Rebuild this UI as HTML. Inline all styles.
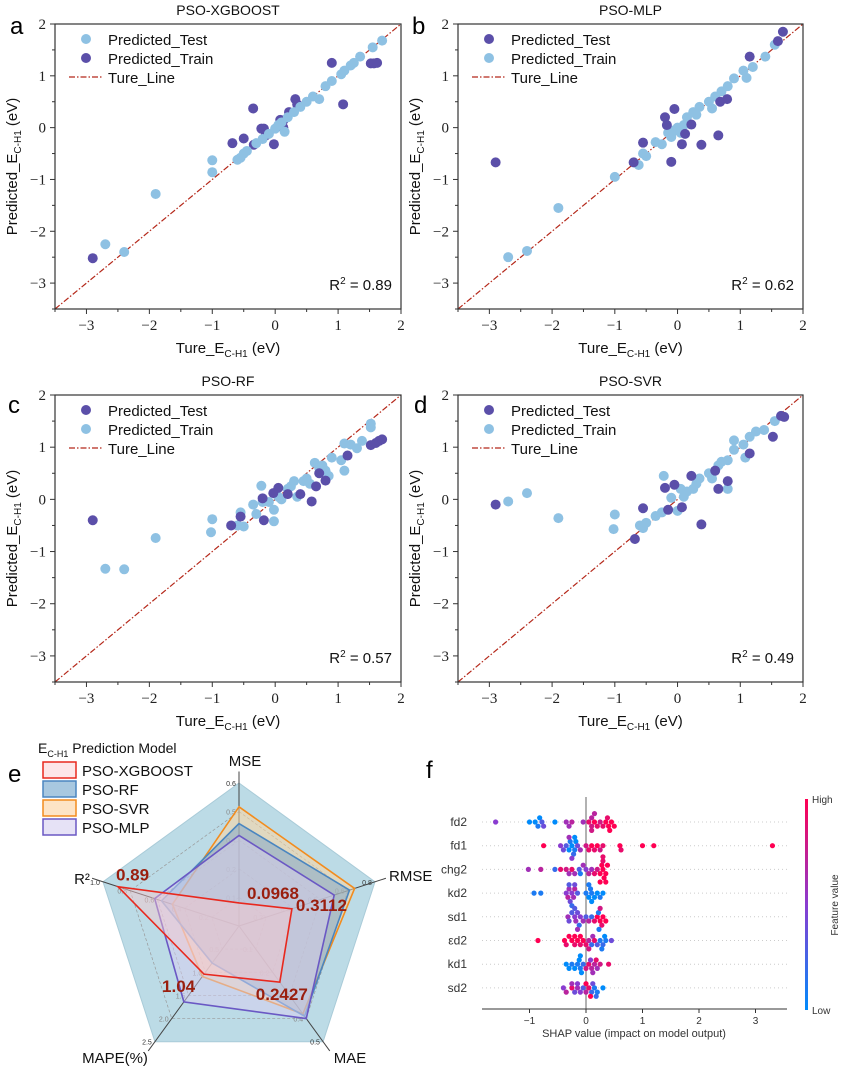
<!DOCTYPE html>
<html><head><meta charset="utf-8"><style>
body{margin:0;background:#fff}
svg{display:block;font-family:"Liberation Sans",sans-serif}
.tk{font-family:"Liberation Serif",serif;font-size:15px;fill:#222}
</style></head><body>
<svg id="fig" width="848" height="1072" viewBox="0 0 848 1072" xmlns="http://www.w3.org/2000/svg">
<defs>
<linearGradient id="cbg" x1="0" y1="1" x2="0" y2="0"><stop offset="0" stop-color="#008bfb"/><stop offset="0.5" stop-color="#8a3cd0"/><stop offset="1" stop-color="#ff0052"/></linearGradient>
</defs>
</svg>
<script>
// ---------- scatter data ----------
const aTestX=[-2.7,-2.4,-1.9,-1.0,-1.0,-0.6,-0.55,-0.5,-0.45,-0.3,-0.2,-0.1,0,0.05,0.1,0.15,0.2,0.3,0.4,0.5,0.6,0.7,0.8,0.9,1.05,1.1,1.2,1.25,1.35,1.55,1.7];
const aTestY=[-2.25,-2.4,-1.28,-0.63,-0.86,-0.62,-0.58,-0.5,-0.45,-0.3,-0.22,-0.12,-0.02,0.05,0.1,-0.08,0.2,0.3,0.4,0.5,0.6,0.55,0.8,0.9,1.03,1.1,1.2,1.25,1.37,1.55,1.68];
const aTrainX=[-2.9,-0.68,-0.5,-0.35,-0.34,-0.22,-0.18,-0.15,-0.02,0.08,0.13,0.13,0.22,0.32,0.35,0.9,1.08,1.52,1.57,1.62];
const aTrainY=[-2.52,-0.3,-0.21,0.37,-0.33,-0.02,-0.02,-0.15,-0.32,0.15,0.14,0.0,0.3,0.55,0.45,1.25,0.45,1.24,1.24,1.25];
const bTestX=[-2.9,-0.7,-0.55,-0.2,-0.17,-0.05,-0.1,0.07,0.12,0.22,0.38,0.65,0.68,0.79,1.15,1.6,1.68];
const bTestY=[-0.67,-0.67,-0.29,0.2,0.05,0.36,-0.66,-0.32,-0.12,0.06,-0.33,-0.15,0.5,0.55,1.37,1.67,1.85];
const bTrainX=[-2.7,-2.4,-1.9,-1.0,-0.62,-0.55,-0.5,-0.35,-0.25,-0.15,-0.1,-0.05,0,0.05,0.1,0.15,0.25,0.3,0.35,0.5,0.55,0.6,0.7,0.8,0.9,1.05,1.1,1.2,1.4,1.55];
const bTrainY=[-2.5,-2.38,-1.55,-0.95,-0.72,-0.5,-0.55,-0.28,-0.32,-0.1,-0.18,-0.05,0.0,-0.1,0.05,0.2,0.3,0.25,0.4,0.5,0.37,0.6,0.7,0.8,0.95,1.1,0.96,1.17,1.37,1.6];
const cTestX=[-2.9,-0.7,-0.55,-0.18,-0.2,-0.03,0.05,0.2,0.4,0.58,0.65,0.7,0.8,1.15,1.52,1.6,1.65,1.7];
const cTestY=[-0.4,-0.5,-0.33,-0.4,0.02,0.12,0.22,0.1,0.1,-0.04,0.25,0.5,0.36,0.84,1.04,1.08,1.12,1.15];
const cTrainX=[-2.7,-2.4,-1.9,-1.02,-1.0,-0.6,-0.55,-0.5,-0.35,-0.3,-0.22,-0.2,-0.1,-0.02,-0.02,0.05,0.1,0.2,0.25,0.3,0.35,0.45,0.5,0.55,0.63,0.7,0.75,0.8,0.85,0.9,1.05,1.1,1.1,1.2,1.3,1.38,1.52,1.52];
const cTrainY=[-1.33,-1.34,-0.74,-0.63,-0.38,-0.5,-0.25,-0.52,-0.1,-0.28,0.26,-0.05,-0.05,-0.2,-0.42,0.05,0.0,0.2,0.25,0.35,0.05,0.35,0.4,0.3,0.7,0.6,0.65,0.55,0.45,0.8,0.75,0.55,1.07,1.05,0.98,1.12,1.38,1.45];
const dTestX=[-2.9,-0.68,-0.55,-0.2,-0.05,-0.15,0.07,0.22,0.38,0.6,0.65,0.8,1.15,1.52,1.65,1.7];
const dTestY=[-0.1,-0.76,-0.17,0.22,0.28,-0.2,-0.15,0.45,-0.48,0.55,0.2,0.35,0.88,1.2,1.6,1.58];
const dTrainX=[-2.7,-2.4,-1.9,-1.02,-1.0,-0.6,-0.55,-0.5,-0.35,-0.25,-0.22,-0.1,0.0,0.05,0.1,0.15,0.25,0.3,0.35,0.5,0.55,0.65,0.7,0.8,0.8,0.9,0.9,1.05,1.08,1.15,1.25,1.38,1.55];
const dTrainY=[-0.04,0.12,-0.36,-0.57,-0.29,-0.5,-0.55,-0.45,-0.32,-0.25,0.45,0.03,-0.22,0.2,0.05,0.15,0.2,0.3,0.4,0.5,0.4,0.65,0.72,0.2,0.75,0.95,1.13,1.05,0.8,1.2,1.3,1.33,1.5];
const scatterTicks=[-3,-2,-1,0,1,2];
const tickLabels=["\u22123","\u22122","\u22121","0","1","2"];
// ---------- radar data ----------
const radarAxes=["MSE","RMSE","MAE","MAPE(%)","R\u00b2"];
const radarMax=[0.6,0.8,0.5,2.5,1.0];
const svrVals=[0.5,0.68,0.38,1.09,0.49];
const rfVals=[0.43,0.65,0.39,0.8,0.57];
const mlpVals=[0.38,0.56,0.40,1.64,0.62];
const xgbVals=[0.0968,0.3112,0.2427,1.04,0.89];
const xgbLabels=["0.0968","0.3112","0.2427","1.04","0.89"];
// ---------- shap data ----------
const shapFeatures=["fd2","fd1","chg2","kd2","sd1","\u03b5d2","kd1","sd2"];
const shapTicks=[-1,0,1,2,3];
const fd2V=[-1.6,-1.0,-0.9,-0.85,-0.82,-0.78,-0.75,-0.55,-0.35,-0.3,-0.25,-0.05,0.05,0.1,0.1,0.15,0.2,0.25,0.35,0.4,0.45,0.5,0.38,0.3,0.42,0.1,0.15];
const fd2F=[0.5,0,0,0.1,0,0.3,0.4,0,0.6,0.6,0.7,0.6,0.9,0.8,0.7,1,0.9,0.8,1,1,1,1,0.9,0.9,1,0.8,0.7];
const fd1V=[-0.75,-0.45,-0.4,-0.35,-0.3,-0.28,-0.25,-0.22,-0.2,-0.18,-0.15,-0.3,-0.25,-0.2,-0.1,0,0.05,0.1,0.15,0.2,0.25,0.3,0.6,0.62,1.0,1.2,3.3];
const fd1F=[1,0.5,0.4,0.3,0,0.1,0,0.2,0.1,0,0.4,0.6,0.5,0,0.6,0.8,0.9,1,0.9,1,0.8,0.9,1,0.9,1,1,1];
const chg2V=[-1.02,-0.8,-0.55,-0.45,-0.35,-0.3,-0.25,-0.2,-0.12,-0.1,-0.05,0,0.05,0.1,0.15,0.2,0.25,0.28,0.3,0.32,0.35,0.3,0.25,0.3,0.35,0.38];
const chg2F=[0.6,0.7,0.2,0.9,0.8,0.6,0.9,0.6,0.3,0.1,0.6,0.5,0.7,0.6,0.9,0.8,1,1,1,1,1,0.9,1,0.9,1,1];
const kd2V=[-0.92,-0.8,-0.35,-0.32,-0.3,-0.28,-0.25,-0.22,-0.2,-0.3,-0.25,-0.2,-0.15,0,0.05,0.08,0.1,0.15,0.2,0.25,0.3,0.1,0.05];
const kd2F=[0.1,0.1,0.5,0.7,0.6,0.4,0.5,0.6,0.7,0.3,0.2,0.4,0.3,0.1,0,0.1,0.1,0,0,0.1,0,0,0.1];
const sd1V=[-0.32,-0.3,-0.25,-0.2,-0.18,-0.15,-0.12,-0.1,-0.2,-0.15,-0.05,0,0.05,0.1,0.15,0.2,0.22,0.25,0.28,0.3,0.35,0.25,0.23];
const sd1F=[0.6,0.4,0.3,0.5,0.6,0.4,0.2,0.5,0.3,0.6,0.6,0.3,0.7,0.2,0.9,1,0.1,1,0.9,1,1,0.8,0.1];
const ed2V=[-0.85,-0.38,-0.35,-0.3,-0.25,-0.2,-0.15,-0.1,-0.05,0,0.05,0.1,0.12,0.15,0.2,0.25,0.3,0.33,0.35,0.45,-0.2,-0.1,0.05,0.28];
const ed2F=[1,1,0.9,1,1,0.9,1,0.9,1,0.9,0.7,0.2,0.6,0.9,0.3,0.1,0.2,0,0.1,0.4,1,1,0.8,0.1];
const kd1V=[-0.35,-0.3,-0.25,-0.2,-0.15,-0.12,-0.1,-0.08,-0.05,0,0.05,0.08,0.1,0.12,0.15,0.18,0.2,0.25,0.4,-0.1];
const kd1F=[0,0,0.1,0,0.1,0,0.1,0,0.2,0.8,0.9,0.5,0.7,0.6,0.7,0.9,0.6,0.8,0.9,0];
const sd2V=[-0.4,-0.35,-0.25,-0.2,-0.15,-0.1,-0.05,0,0.05,0.1,0.12,0.15,0.18,0.2,0.3,-0.25,-0.15,0.0,0.08];
const sd2F=[0.5,0.7,0.9,0.4,0.6,0.5,0.3,0.7,0.9,0.2,0.4,0.1,0.2,0.1,0,0.6,0.5,1,1];

const NS="http://www.w3.org/2000/svg";
const svg=document.getElementById('fig');
function mk(tag,attrs,parent,text){const e=document.createElementNS(NS,tag);for(const k in attrs)e.setAttribute(k,attrs[k]);if(text!==undefined)e.textContent=text;(parent||svg).appendChild(e);return e;}
const LIGHT="#8ec1e3",DARK="#5b4fa9";

function scatterPanel(name,L,T,R,B,title,letter,lx,ly,tX,tY,trX,trY,testCol,trainCol,r2){
  const g=mk('g',{});
  
  
  const sx=v=>L+(v+3.5)/5.5*(R-L), sy=v=>B-(v+3.5)/5.5*(B-T);
  const cx=(L+R)/2;
  const t=mk('text',{x:cx,y:T-9,'text-anchor':'middle','font-size':14,fill:'#111'},g,title);
  
  const l=mk('text',{x:lx,y:ly,'font-size':24,fill:'#000'},g,letter);
  
  for(let v=-3.5;v<=2.01;v+=0.5){
    const maj=Math.abs(v-Math.round(v))<0.01;
    const len=maj?5:3;
    mk('line',{x1:sx(v),x2:sx(v),y1:B,y2:B+len,stroke:'#333','stroke-width':1},g);
    mk('line',{x1:L,x2:L-len,y1:sy(v),y2:sy(v),stroke:'#333','stroke-width':1},g);
  }
  scatterTicks.forEach((v,i)=>{
    const a=mk('text',{x:sx(v),y:B+21,'text-anchor':'middle',class:'tk'},g,tickLabels[i]);
    
    const b=mk('text',{x:L-9,y:sy(v)+5,'text-anchor':'end',class:'tk'},g,tickLabels[i]);
    
  });
  const tl=mk('line',{x1:sx(-3.5),y1:sy(-3.5),x2:sx(2),y2:sy(2),stroke:'#b5281a','stroke-width':1.2,'stroke-dasharray':'6 2 1.5 2'},g);
  
  const drawPts=(xs,ys,col,nm)=>xs.forEach((x,i)=>{const c=mk('circle',{cx:sx(x),cy:sy(ys[i]),r:5,fill:col},g);});
  drawPts(trX,trY,trainCol,'train-point');drawPts(tX,tY,testCol,'test-point');
  const fr=mk('rect',{x:L,y:T,width:R-L,height:B-T,fill:'none',stroke:'#333','stroke-width':1.2},g);
  
  const lg=mk('g',{},g);
  
  mk('circle',{cx:L+31,cy:T+15,r:5,fill:testCol},lg);
  mk('text',{x:L+53,y:T+21,'font-size':15,fill:'#111'},lg,'Predicted_Test');
  mk('circle',{cx:L+31,cy:T+34,r:5,fill:trainCol},lg);
  mk('text',{x:L+53,y:T+40,'font-size':15,fill:'#111'},lg,'Predicted_Train');
  mk('line',{x1:L+14,x2:L+47,y1:T+53,y2:T+53,stroke:'#b5281a','stroke-width':1.2,'stroke-dasharray':'6 2 1.5 2'},lg);
  mk('text',{x:L+53,y:T+59,'font-size':15,fill:'#111'},lg,'Ture_Line');
  const rt=mk('text',{x:R-9,y:B-19,'text-anchor':'end','font-size':15,fill:'#111'},g);
  
  mk('tspan',{},rt,'R');mk('tspan',{dy:-6,'font-size':10},rt,'2');mk('tspan',{dy:6},rt,' = '+r2);
  const xl=mk('text',{x:cx,y:B+44,'text-anchor':'middle','font-size':15,fill:'#111'},g);
  
  mk('tspan',{},xl,'Ture_E');mk('tspan',{dy:4,'font-size':10},xl,'C-H1');mk('tspan',{dy:-4},xl,' (eV)');
  const yc=(T+B)/2, yx=L-38;
  const yl=mk('text',{x:yx,y:yc,'text-anchor':'middle','font-size':15,fill:'#111',transform:`rotate(-90 ${yx} ${yc})`},g);
  
  mk('tspan',{},yl,'Predicted_E');mk('tspan',{dy:4,'font-size':10},yl,'C-H1');mk('tspan',{dy:-4},yl,' (eV)');
}
scatterPanel('panel-a-xgboost',55,24,401,309,'PSO-XGBOOST','a',10,34,aTestX,aTestY,aTrainX,aTrainY,LIGHT,DARK,'0.89');
scatterPanel('panel-b-mlp',458,24,803,309,'PSO-MLP','b',412,34,bTestX,bTestY,bTrainX,bTrainY,DARK,LIGHT,'0.62');
scatterPanel('panel-c-rf',55,395,401,682,'PSO-RF','c',8,413,cTestX,cTestY,cTrainX,cTrainY,DARK,LIGHT,'0.57');
scatterPanel('panel-d-svr',458,395,803,682,'PSO-SVR','d',414,413,dTestX,dTestY,dTrainX,dTrainY,DARK,LIGHT,'0.49');

// ---------- radar ----------
(function(){
  const g=mk('g',{});
  
  
  const CX=239,CY=926,RR=143;
  const ang=i=>(-90+72*i)*Math.PI/180;
  const pt=(i,f)=>[CX+RR*f*Math.cos(ang(i)),CY+RR*f*Math.sin(ang(i))];
  const poly=f=>radarAxes.map((_,i)=>pt(i,f).join(',')).join(' ');
  const bg=mk('polygon',{points:poly(1),fill:'#bcdbe6',stroke:'#a9cbd8'},g);
  
  for(let k=1;k<5;k++)mk('polygon',{points:poly(k/5),fill:'none',stroke:'#999','stroke-width':0.7,'stroke-dasharray':'3 2'},g);
  radarAxes.forEach((a,i)=>{const p=pt(i,1.08);mk('line',{x1:CX,y1:CY,x2:p[0],y2:p[1],stroke:'#444','stroke-width':1},g);});
  radarAxes.forEach((a,i)=>{for(let k=1;k<=5;k++){const p=pt(i,k/5);const v=radarMax[i]*k/5;
    mk('text',{x:p[0]-8,y:p[1]+3,'font-size':7,fill:k==5?'#333':'#888','text-anchor':'middle'},g,(Math.round(v*10)/10).toFixed(1));}});
  const series=[[svrVals,'rgba(253,214,160,0.55)','#f28c1e','svr'],[rfVals,'rgba(110,160,205,0.45)','#4a86c0','rf'],[mlpVals,'rgba(215,205,240,0.5)','#6a58c4','mlp'],[xgbVals,'rgba(250,200,205,0.45)','#e8281e','xgboost']];
  series.forEach(s=>{
    const pts=s[0].map((v,i)=>pt(i,v/radarMax[i]).join(',')).join(' ');
    const p=mk('polygon',{points:pts,fill:s[1],stroke:s[2],'stroke-width':1.6},g);
    
  });
  const off=[[8,-4],[4,2],[-24,18],[-42,18],[-2,-6]];
  xgbVals.forEach((v,i)=>{const p=pt(i,v/radarMax[i]);
    const t=mk('text',{x:p[0]+off[i][0],y:p[1]+off[i][1],'font-size':17,'font-weight':'bold',fill:'#9a1e0e'},g,xgbLabels[i]);
    });
  const lab=[[245,766,'middle'],[389,881,'start'],[350,1063,'middle'],[115,1063,'middle'],[82,884,'middle']];
  radarAxes.forEach((a,i)=>{const t=mk('text',{x:lab[i][0],y:lab[i][1],'text-anchor':lab[i][2],'font-size':15,fill:'#111'},g,a);
    });
  const e=mk('text',{x:8,y:782,'font-size':24,fill:'#000'},g,'e');
  
  const lg=mk('g',{},g);
  
  const tt=mk('text',{x:38,y:753,'font-size':14,fill:'#111'},lg);
  mk('tspan',{},tt,'E');mk('tspan',{dy:4,'font-size':9},tt,'C-H1');mk('tspan',{dy:-4},tt,' Prediction Model');
  const items=[['PSO-XGBOOST','#fde6e8','#e8281e'],['PSO-RF','#a8c8e0','#4a86c0'],['PSO-SVR','#fde4c6','#f28c1e'],['PSO-MLP','#e6e2f6','#6a58c4']];
  items.forEach((it,i)=>{const y=762+i*19;
    mk('rect',{x:43,y:y,width:33,height:16,fill:it[1],stroke:it[2],'stroke-width':1.5},lg);
    mk('text',{x:82,y:y+14,'font-size':15,fill:'#111'},lg,it[0]);});
})();

// ---------- SHAP ----------
(function(){
  const g=mk('g',{});
  
  
  const X0=586,PX=56.5,Y0=822,DY=23.7;
  const sx=v=>X0+v*PX;
  const f=mk('text',{x:426,y:778,'font-size':24,fill:'#000'},g,'f');
  
  const vals=[fd2V,fd1V,chg2V,kd2V,sd1V,ed2V,kd1V,sd2V],fvs=[fd2F,fd1F,chg2F,kd2F,sd1F,ed2F,kd1F,sd2F];
  const col=t=>{const a=[0,139,251],m=[138,60,208],b=[255,0,82];let c;
    if(t<0.5){const u=t/0.5;c=a.map((x,i)=>x+(m[i]-x)*u);}else{const u=(t-0.5)/0.5;c=m.map((x,i)=>x+(b[i]-x)*u);}
    return `rgb(${c.map(Math.round).join(',')})`;};
  mk('line',{x1:X0,x2:X0,y1:797,y2:1009,stroke:'#999','stroke-width':1.5},g);
  shapFeatures.forEach((nm,r)=>{
    const y=Y0+r*DY;
    mk('line',{x1:482,x2:787,y1:y,y2:y,stroke:'#ccc','stroke-width':1,'stroke-dasharray':'1 3'},g);
    const t=mk('text',{x:467,y:y+4,'text-anchor':'end','font-size':12,fill:'#333'},g,nm);
    
    const placed=[];
    vals[r].forEach((v,i)=>{
      const x=sx(v);let dy=0;
      for(let k=0;k<8;k++){dy=(k%2?1:-1)*Math.ceil(k/2)*4.2;
        if(!placed.some(p=>Math.abs(p[0]-x)<5&&Math.abs(p[1]-dy)<4))break;}
      placed.push([x,dy]);
      const c=mk('circle',{cx:x,cy:y+dy,r:2.6,fill:col(fvs[r][i])},g);
      
    });
  });
  mk('line',{x1:482,x2:787,y1:1009,y2:1009,stroke:'#333','stroke-width':1},g);
  shapTicks.forEach(v=>{mk('line',{x1:sx(v),x2:sx(v),y1:1009,y2:1013,stroke:'#333'},g);
    const t=mk('text',{x:sx(v),y:1024,'text-anchor':'middle','font-size':10,fill:'#333'},g,v<0?'\u2212'+(-v):String(v));
    });
  const xl=mk('text',{x:634,y:1037,'text-anchor':'middle','font-size':11,fill:'#333'},g,'SHAP value (impact on model output)');
  
  const cb=mk('rect',{x:805,y:799,width:3,height:211,fill:'url(#cbg)'},g);
  
  mk('text',{x:812,y:803,'font-size':10,fill:'#333'},g,'High');
  mk('text',{x:812,y:1014,'font-size':10,fill:'#333'},g,'Low');
  const fl=mk('text',{x:838,y:905,'text-anchor':'middle','font-size':10,fill:'#333',transform:'rotate(-90 838 905)'},g,'Feature value');
  
})();
</script>
</body></html>
